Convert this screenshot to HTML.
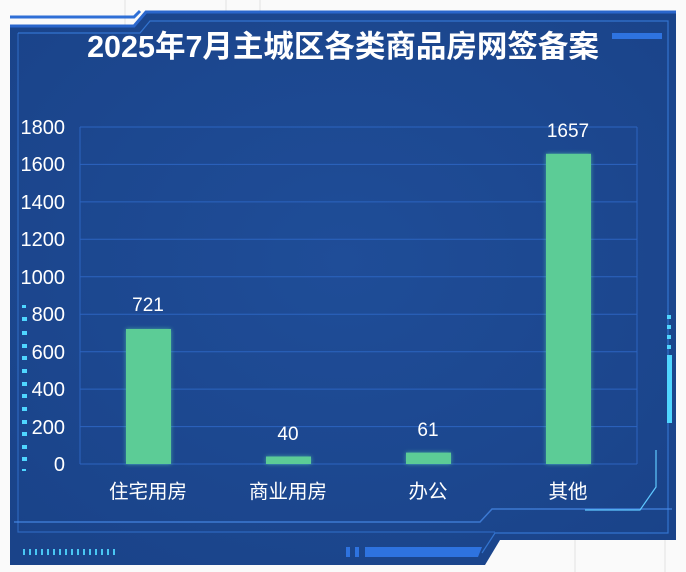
<!DOCTYPE html>
<html><head><meta charset="utf-8"><style>
html,body{margin:0;padding:0;background:#fff;}
svg{display:block;font-family:"Liberation Sans","Noto Sans CJK SC",sans-serif;}
</style></head><body>
<svg width="686" height="572" viewBox="0 0 686 572" xmlns="http://www.w3.org/2000/svg">
<defs>
<radialGradient id="bg" cx="50%" cy="45%" r="70%">
<stop offset="0" stop-color="#1f4d98"/><stop offset="1" stop-color="#1a4389"/>
</radialGradient>
<filter id="gl" x="-30%" y="-30%" width="160%" height="160%"><feGaussianBlur stdDeviation="2"/></filter>
</defs>
<rect width="686" height="572" fill="#fafafa"/>
<g stroke="#e2e2e2" stroke-width="1">
<line x1="125" y1="0" x2="125" y2="30"/><line x1="226" y1="0" x2="226" y2="30"/><line x1="260" y1="0" x2="260" y2="30"/>
<line x1="575" y1="540" x2="575" y2="572"/><line x1="665" y1="540" x2="665" y2="572"/>
</g>
<path d="M10 26 L134 26 L146 12 L676 12 L676 540 L500 540 L485 565 L10 565 Z" fill="url(#bg)"/>
<path d="M10 17 L134 17 L140 11" stroke="#2f6fd6" stroke-width="3" fill="none"/>
<path d="M10 26 L134 26 L146 12 L676 12" stroke="#2a66cc" stroke-width="3" fill="none"/>
<path d="M18 33 L140 33 L150 21 L668 21 L668 533 L495 533 L482 553" stroke="#3a7fe0" stroke-width="1.2" fill="none" opacity="0.8"/>
<path d="M18 33 L18 532 L150 532 L495 532" stroke="#3a7fe0" stroke-width="1.2" fill="none" opacity="0.6"/>
<path d="M14 522 L480 522 L492 509 L672 509" stroke="#4a8ff0" stroke-width="1.5" fill="none" opacity="0.7"/>
<path d="M585 510 L640 510 L656 487 L656 450" stroke="#5fc8ff" stroke-width="1.2" fill="none"/>
<rect x="612" y="33" width="50" height="6" fill="#2e73e0"/>
<rect x="667" y="355" width="5" height="68" fill="#4fd6ff"/>
<g fill="#4fd6ff"><rect x="667" y="315" width="4" height="4"/><rect x="667" y="325" width="4" height="4"/><rect x="667" y="335" width="4" height="4"/><rect x="667" y="345" width="4" height="4"/></g>
<g fill="#4fd6ff">
<rect x="22" y="305" width="4" height="3"/><rect x="22" y="317" width="5" height="4"/><rect x="22" y="331" width="5" height="4"/><rect x="22" y="344" width="5" height="4"/><rect x="22" y="356" width="5" height="4"/><rect x="22" y="369" width="5" height="4"/><rect x="22" y="382" width="5" height="4"/><rect x="22" y="394" width="5" height="4"/><rect x="22" y="407" width="5" height="4"/><rect x="22" y="420" width="5" height="4"/><rect x="22" y="432" width="5" height="4"/><rect x="22" y="445" width="5" height="4"/><rect x="22" y="457" width="5" height="4"/><rect x="22" y="469" width="4" height="2"/>
</g>
<g fill="#4fd6ff" opacity="0.9">
<rect x="23" y="549" width="2" height="6"/><rect x="29" y="549" width="2" height="6"/><rect x="35" y="549" width="2" height="6"/><rect x="41" y="549" width="2" height="6"/><rect x="47" y="549" width="2" height="6"/><rect x="53" y="549" width="2" height="6"/><rect x="59" y="549" width="2" height="6"/><rect x="65" y="549" width="2" height="6"/><rect x="71" y="549" width="2" height="6"/><rect x="77" y="549" width="2" height="6"/><rect x="83" y="549" width="2" height="6"/><rect x="89" y="549" width="2" height="6"/><rect x="95" y="549" width="2" height="6"/><rect x="101" y="549" width="2" height="6"/><rect x="107" y="549" width="2" height="6"/><rect x="113" y="549" width="2" height="6"/>
</g>
<rect x="346" y="547" width="4" height="10" fill="#2e73e0"/><rect x="355" y="547" width="4" height="10" fill="#2e73e0"/><path d="M365 547 L482 547 L478 557 L365 557 Z" fill="#2e73e0"/>
<text x="343" y="57" font-size="30.5" font-weight="bold" fill="#fff" text-anchor="middle">2025年7月主城区各类商品房网签备案</text>
<g stroke="#2c64c0" stroke-width="1">
<line x1="80" y1="127" x2="637" y2="127"/><line x1="80" y1="164.4" x2="637" y2="164.4"/><line x1="80" y1="201.9" x2="637" y2="201.9"/><line x1="80" y1="239.3" x2="637" y2="239.3"/><line x1="80" y1="276.8" x2="637" y2="276.8"/><line x1="80" y1="314.2" x2="637" y2="314.2"/><line x1="80" y1="351.7" x2="637" y2="351.7"/><line x1="80" y1="389.1" x2="637" y2="389.1"/><line x1="80" y1="426.6" x2="637" y2="426.6"/><line x1="80" y1="464" x2="637" y2="464"/>
<line x1="80" y1="127" x2="80" y2="464"/><line x1="637" y1="127" x2="637" y2="464"/>
</g>
<g fill="#fff" font-size="20" text-anchor="end">
<text x="65" y="134">1800</text><text x="65" y="171">1600</text><text x="65" y="209">1400</text><text x="65" y="246">1200</text><text x="65" y="284">1000</text><text x="65" y="321">800</text><text x="65" y="359">600</text><text x="65" y="396">400</text><text x="65" y="434">200</text><text x="65" y="471">0</text>
</g>
<g fill="#5fe0a8" filter="url(#gl)" opacity="0.6">
<rect x="126" y="329" width="45" height="135"/><rect x="266" y="456.5" width="45" height="7.5"/><rect x="406" y="452.6" width="45" height="11.4"/><rect x="546" y="153.8" width="45" height="310.2"/>
</g>
<g fill="#5ccc96">
<rect x="126" y="329" width="45" height="135"/><rect x="266" y="456.5" width="45" height="7.5"/><rect x="406" y="452.6" width="45" height="11.4"/><rect x="546" y="153.8" width="45" height="310.2"/>
</g>
<g fill="#fff" font-size="19" text-anchor="middle">
<text x="148" y="311">721</text><text x="288" y="440">40</text><text x="428" y="436">61</text><text x="568" y="137">1657</text>
</g>
<g fill="#fff" font-size="19.5" text-anchor="middle">
<text x="148" y="498">住宅用房</text><text x="288" y="498">商业用房</text><text x="428" y="498">办公</text><text x="568" y="498">其他</text>
</g>
</svg>
</body></html>
